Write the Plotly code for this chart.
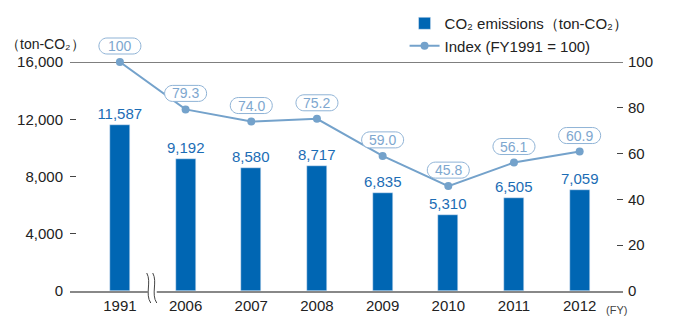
import plotly.graph_objects as go

years = ["1991", "2006", "2007", "2008", "2009", "2010", "2011", "2012"]
emissions = [11587, 9192, 8580, 8717, 6835, 5310, 6505, 7059]
index_vals = [100, 79.3, 74.0, 75.2, 59.0, 45.8, 56.1, 60.9]
index_labels = ["100", "79.3", "74.0", "75.2", "59.0", "45.8", "56.1", "60.9"]
left_ticks = [0, 4000, 8000, 12000, 16000]
left_ticktext = ["0", "4,000", "8,000", "12,000", "16,000"]
right_ticks = [0, 20, 40, 60, 80, 100]

xs = list(range(len(years)))
BAR = "#0066b3"
LINE = "#74a2cb"
FONT = "Liberation Sans, Arial, sans-serif"
Y2MAX = 100

fig = go.Figure()
fig.add_trace(go.Bar(
    x=xs, y=emissions, width=0.305, marker_color=BAR,
    name="CO₂ emissions（ton-CO₂）",
    text=[f"{v:,}" for v in emissions], textposition="outside",
    constraintext="none",
    textfont=dict(color="#1c6db5", size=15, family=FONT),
    cliponaxis=False, hoverinfo="skip",
))
fig.add_trace(go.Scatter(
    x=xs, y=index_vals, yaxis="y2", mode="lines+markers",
    name="Index (FY1991 = 100)",
    line=dict(color=LINE, width=2), marker=dict(color=LINE, size=8),
    cliponaxis=False, hoverinfo="skip",
))

# rounded label boxes (pill), anchored at each index point
pill = ("M -13,24 L 13,24 C 17.4,24 21,20.4 21,16 C 21,11.6 17.4,8 13,8 "
        "L -13,8 C -17.4,8 -21,11.6 -21,16 C -21,20.4 -17.4,24 -13,24 Z")
for x, v, t in zip(xs, index_vals, index_labels):
    fig.add_shape(type="path", xref="x", yref="paper", xsizemode="pixel", ysizemode="pixel",
                  xanchor=x, yanchor=v / Y2MAX, path=pill,
                  fillcolor="white", line=dict(color="#8fb3d6", width=1), layer="above")
    fig.add_annotation(
        x=x, y=v, xref="x", yref="y2", text=t, showarrow=False,
        yshift=16, font=dict(color="#7ea7cf", size=14, family=FONT),
    )

# top line at 16,000
fig.add_shape(type="line", xref="paper", yref="y", x0=0, x1=1, y0=16000, y1=16000,
              line=dict(color="#555555", width=1.5), layer="below")

# axis break marks between 1991 and 2006
fig.add_shape(type="rect", xref="x", yref="paper", xsizemode="pixel", ysizemode="pixel",
              xanchor=0.5, yanchor=0, x0=-5, x1=4, y0=-3, y1=3,
              fillcolor="white", line=dict(width=0), layer="above")
for dx in (-3, 3):
    fig.add_shape(type="path", xref="x", yref="paper", xsizemode="pixel", ysizemode="pixel",
                  xanchor=0.5, yanchor=0,
                  path=f"M {dx-3},18 C {dx+2},9 {dx-5},-3 {dx+1},-12",
                  line=dict(color="#444444", width=1), layer="above")

fig.add_annotation(text="（ton-CO₂）", xref="paper", yref="paper", x=-0.12, y=1.0,
                   xanchor="left", yanchor="middle", showarrow=False, yshift=18,
                   font=dict(size=14, color="#222222", family=FONT))
fig.add_annotation(text="(FY)", xref="paper", yref="paper", x=1.0, y=0,
                   xanchor="right", yanchor="top", showarrow=False, yshift=-11, xshift=6,
                   font=dict(size=11, color="#444444", family=FONT))

fig.update_layout(
    width=673, height=316,
    margin=dict(l=70, r=50, t=62, b=25, autoexpand=False),
    plot_bgcolor="white", paper_bgcolor="white",
    font=dict(family=FONT, size=15, color="#222222"),
    showlegend=True, hovermode=False,
    legend=dict(x=0.605, y=1.24, xanchor="left", yanchor="top",
                font=dict(size=15, color="#222222", family=FONT),
                bgcolor="rgba(0,0,0,0)", tracegroupgap=0, itemwidth=30),
    xaxis=dict(range=[-0.76, 7.66], tickvals=xs, ticktext=years,
               showline=True, linecolor="#888888", linewidth=2,
               ticks="", showgrid=False, zeroline=False, fixedrange=True),
    yaxis=dict(range=[0, 16000], tickvals=left_ticks, ticktext=left_ticktext,
               ticks="inside", ticklen=6, tickcolor="#444444", ticklabelstandoff=6,
               showgrid=False, zeroline=False, showline=False, fixedrange=True),
    yaxis2=dict(range=[0, Y2MAX], tickvals=right_ticks, overlaying="y", side="right",
                ticks="inside", ticklen=6, tickcolor="#444444", ticklabelstandoff=4,
                showgrid=False, zeroline=False, showline=False, fixedrange=True),
    bargap=0,
)

fig.write_html("out.html", config={"displayModeBar": False},
               post_script="document.body.style.margin='0';")
